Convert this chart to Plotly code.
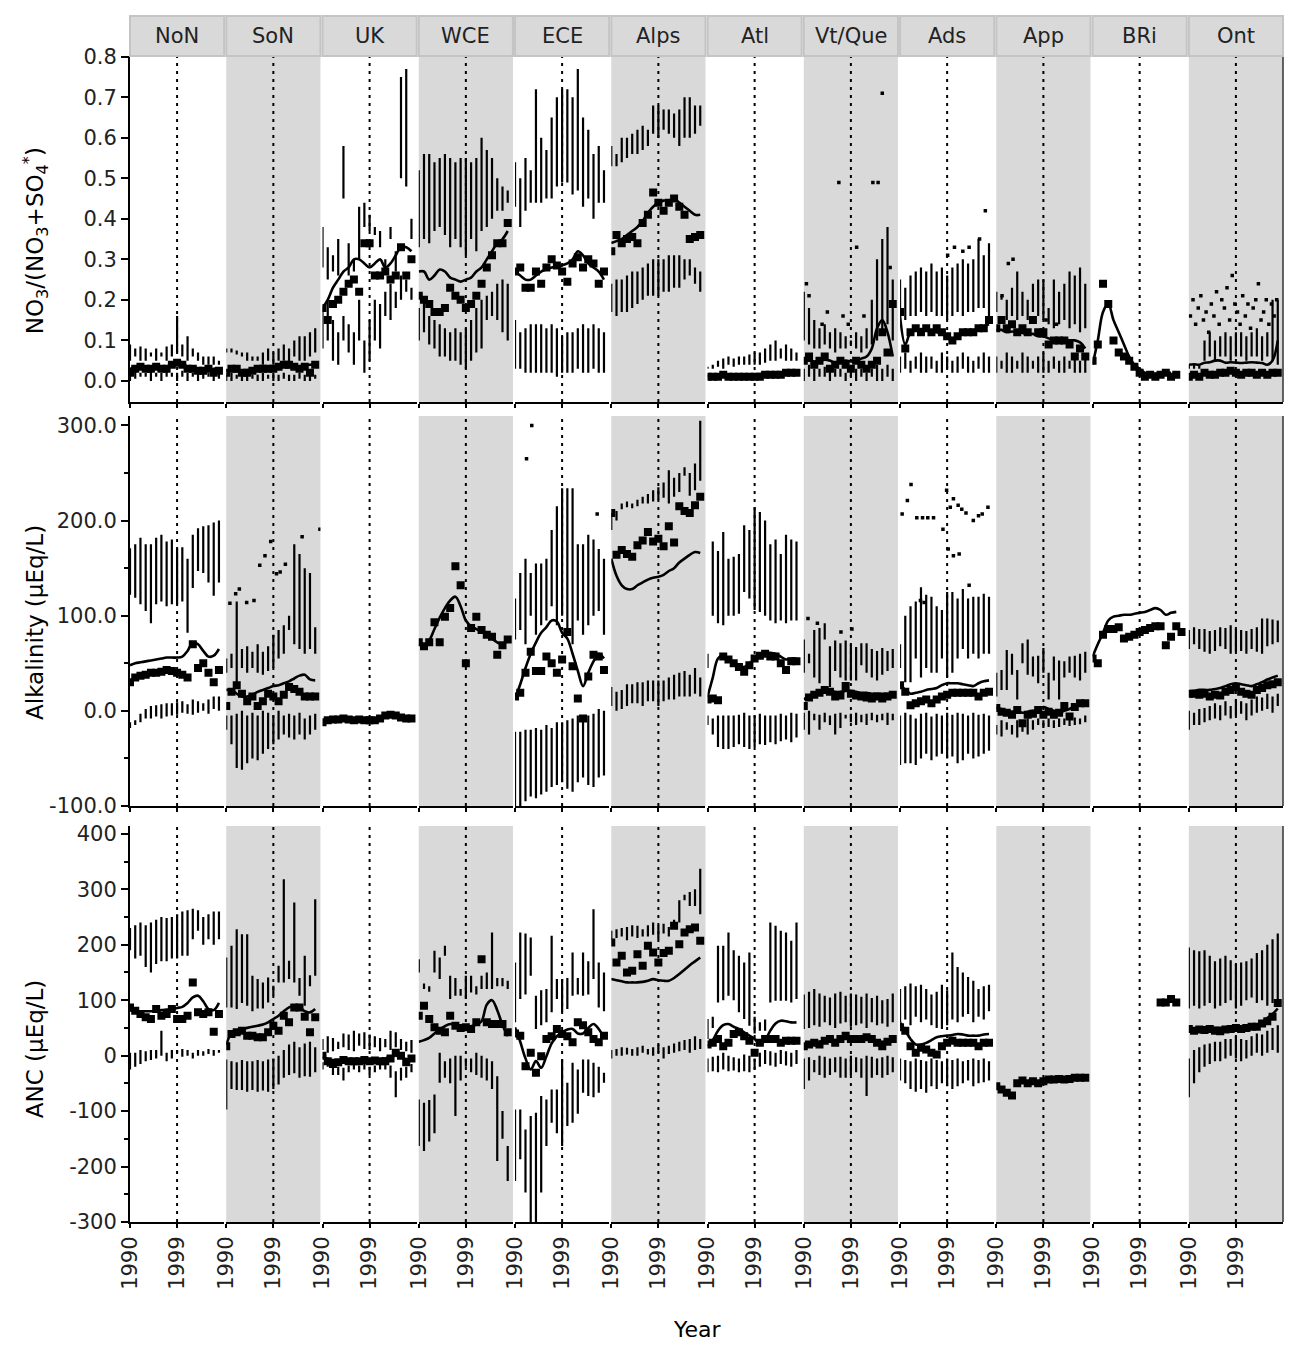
import plotly.graph_objects as go
from plotly.subplots import make_subplots

REGIONS = ["NoN", "SoN", "UK", "WCE", "ECE", "Alps", "Atl", "Vt/Que", "Ads", "App", "BRi", "Ont"]
YEARS = list(range(1990, 2008))
TICK_YEARS = [1990, 1999]
RATIO_TICKS = [0.0, 0.1, 0.2, 0.3, 0.4, 0.5, 0.6, 0.7, 0.8]
ALK_TICKS = [-100, 0, 100, 200, 300]
ANC_TICKS = [-300, -200, -100, 0, 100, 200, 300, 400]

# ---------- row 1: NO3/(NO3+SO4*) ----------
ratio_median = {
    "NoN": [0.02, 0.03, 0.035, 0.03, 0.03, 0.035, 0.03, 0.03, 0.04, 0.045, 0.04, 0.03, 0.03, 0.025, 0.025, 0.03, 0.02, 0.025],
    "SoN": [0.02, 0.03, 0.03, 0.02, 0.02, 0.025, 0.03, 0.03, 0.03, 0.03, 0.035, 0.04, 0.04, 0.035, 0.03, 0.035, 0.02, 0.04],
    "UK": [0.18, 0.15, 0.19, 0.2, 0.22, 0.24, 0.25, 0.22, 0.34, 0.34, 0.26, 0.26, 0.27, 0.25, 0.26, 0.33, 0.26, 0.3],
    "WCE": [0.21, 0.2, 0.19, 0.17, 0.17, 0.18, 0.23, 0.21, 0.2, 0.18, 0.19, 0.21, 0.24, 0.28, 0.31, 0.34, 0.34, 0.39],
    "ECE": [0.27, 0.28, 0.23, 0.23, 0.27, 0.24, 0.28, 0.3, 0.285, 0.27, 0.245, 0.29, 0.305, 0.28, 0.3, 0.29, 0.24, 0.27],
    "Alps": [0.32, 0.36, 0.34, 0.35, 0.355, 0.34, 0.39, 0.41, 0.465, 0.44, 0.42, 0.44, 0.45, 0.43, 0.41, 0.35, 0.355, 0.36],
    "Atl": [0.01, 0.01, 0.01, 0.015, 0.01, 0.01, 0.01, 0.01, 0.01, 0.01, 0.01, 0.015, 0.015, 0.015, 0.015, 0.02, 0.02, 0.02],
    "Vt/Que": [0.05, 0.06, 0.04, 0.05, 0.06, 0.03, 0.04, 0.05, 0.04, 0.03, 0.05, 0.04, 0.03, 0.04, 0.05, 0.12, 0.07, 0.19],
    "Ads": [0.17, 0.08, 0.12, 0.13, 0.12, 0.13, 0.12, 0.13, 0.12, 0.11, 0.1, 0.11, 0.12, 0.12, 0.12, 0.13, 0.13, 0.15],
    "App": [0.13, 0.15, 0.13, 0.14, 0.12, 0.13, 0.12, 0.15, 0.12, 0.12, 0.09, 0.1, 0.1, 0.1, 0.09, 0.06, 0.08, 0.06],
    "BRi": [0.05, 0.09, 0.24, 0.19, 0.1, 0.07, 0.06, 0.05, 0.035, 0.02, 0.01, 0.015, 0.01, 0.015, 0.02, 0.01, 0.015, None],
    "Ont": [0.01, 0.015, 0.01, 0.02, 0.015, 0.015, 0.02, 0.02, 0.025, 0.02, 0.015, 0.02, 0.02, 0.015, 0.02, 0.015, 0.02, 0.02],
}
ratio_trend = {
    "NoN": [0.03, 0.033, 0.035, 0.035, 0.033, 0.032, 0.033, 0.035, 0.042, 0.05, 0.045, 0.035, 0.03, 0.028, 0.027, 0.028, 0.03, 0.03],
    "SoN": [0.025, 0.026, 0.024, 0.025, 0.027, 0.028, 0.027, 0.03, 0.031, 0.03, 0.033, 0.035, 0.034, 0.036, 0.035, 0.038, 0.04, 0.04],
    "UK": [0.18, 0.2, 0.23, 0.25, 0.27, 0.28, 0.3, 0.3, 0.29, 0.28, 0.29, 0.3, 0.28, 0.29, 0.31, 0.33, 0.33, 0.32],
    "WCE": [0.27, 0.27, 0.25, 0.26, 0.275, 0.27, 0.255, 0.25, 0.245, 0.25, 0.255, 0.27, 0.28, 0.3, 0.32, 0.34, 0.35, 0.37],
    "ECE": [0.27, 0.26, 0.25, 0.25, 0.26, 0.27, 0.275, 0.28, 0.28, 0.285, 0.29, 0.3, 0.32, 0.31, 0.29, 0.28, 0.27, 0.25],
    "Alps": [0.34, 0.345, 0.35, 0.36, 0.37, 0.38, 0.395, 0.415, 0.43, 0.44, 0.445, 0.445, 0.45, 0.44, 0.43, 0.42, 0.41, 0.41],
    "Atl": [0.012, 0.013, 0.012, 0.014, 0.015, 0.014, 0.015, 0.016, 0.015, 0.016, 0.017, 0.018, 0.017, 0.018, 0.019, 0.02, 0.02, 0.021],
    "Vt/Que": [0.05, 0.05, 0.048, 0.05, 0.052, 0.05, 0.045, 0.046, 0.05, 0.048, 0.05, 0.055, 0.06, 0.08, 0.13, 0.15, 0.12, 0.06],
    "Ads": [0.16, 0.09, 0.12, 0.125, 0.128, 0.125, 0.12, 0.12, 0.115, 0.11, 0.105, 0.11, 0.115, 0.12, 0.125, 0.13, 0.135, 0.14],
    "App": [0.125, 0.126, 0.12, 0.122, 0.12, 0.118, 0.115, 0.116, 0.11, 0.11, 0.105, 0.1, 0.1, 0.102, 0.1, 0.1, 0.095, 0.08],
    "BRi": [0.04, 0.1, 0.17, 0.19, 0.15, 0.12, 0.09, 0.06, 0.04, 0.03, 0.02, 0.02, 0.018, 0.02, 0.02, 0.02, None, None],
    "Ont": [0.04, 0.041, 0.04, 0.045, 0.046, 0.05, 0.05, 0.045, 0.046, 0.045, 0.044, 0.045, 0.046, 0.045, 0.044, 0.04, 0.05, 0.1],
}
ratio_upper_lo = {
    "NoN": [0.05, 0.06, 0.05, 0.05, 0.06, 0.05, 0.06, 0.05, 0.06, 0.07, 0.06, 0.05, 0.06, 0.05, 0.04, 0.04, 0.04, 0.04],
    "SoN": [0.07, 0.07, 0.065, 0.06, 0.05, 0.05, 0.05, 0.04, 0.05, 0.04, 0.05, 0.05, 0.04, 0.06, 0.05, 0.05, 0.06, 0.07],
    "UK": [0.28, 0.25, 0.27, 0.26, 0.45, 0.26, 0.27, 0.3, 0.38, 0.37, 0.36, 0.33, 0.27, 0.35, 0.27, 0.5, 0.48, 0.35],
    "WCE": [0.33, 0.35, 0.34, 0.37, 0.38, 0.36, 0.33, 0.35, 0.33, 0.31, 0.35, 0.32, 0.37, 0.38, 0.4, 0.42, 0.42, 0.44],
    "ECE": [0.43, 0.38, 0.42, 0.44, 0.44, 0.44, 0.45, 0.45, 0.48, 0.49, 0.49, 0.46, 0.47, 0.43, 0.45, 0.4, 0.44, 0.44],
    "Alps": [0.53, 0.53, 0.54, 0.55, 0.56, 0.56, 0.57, 0.58, 0.61, 0.6, 0.62, 0.61, 0.6, 0.58, 0.6, 0.6, 0.61, 0.63],
    "Atl": [0.03, 0.03, 0.035, 0.03, 0.04, 0.035, 0.04, 0.04, 0.04, 0.04, 0.04, 0.045, 0.05, 0.05, 0.055, 0.05, 0.05, 0.05],
    "Vt/Que": [0.1, 0.09, 0.08, 0.08, 0.09, 0.08, 0.07, 0.08, 0.08, 0.09, 0.08, 0.07, 0.08, 0.09, 0.1, 0.12, 0.14, 0.1],
    "Ads": [0.16, 0.15, 0.16, 0.16, 0.17, 0.16, 0.17, 0.16, 0.16, 0.15, 0.16, 0.17, 0.16, 0.17, 0.17, 0.18, 0.18, 0.16],
    "App": [0.17, 0.2, 0.15, 0.16, 0.15, 0.16, 0.15, 0.17, 0.16, 0.15, 0.14, 0.13, 0.14, 0.15, 0.13, 0.14, 0.12, 0.13],
    "BRi": None,
    "Ont": [0.03, 0.03, 0.03, 0.05, 0.06, 0.05, 0.06, 0.06, 0.05, 0.06, 0.06, 0.05, 0.06, 0.06, 0.05, 0.06, 0.05, 0.04],
}
ratio_upper_hi = {
    "NoN": [0.09, 0.08, 0.085, 0.08, 0.07, 0.08, 0.07, 0.085, 0.09, 0.16, 0.09, 0.11, 0.08, 0.07, 0.06, 0.06, 0.06, 0.05],
    "SoN": [0.08, 0.08, 0.075, 0.07, 0.07, 0.06, 0.06, 0.07, 0.08, 0.07, 0.08, 0.09, 0.08, 0.1, 0.11, 0.11, 0.12, 0.13],
    "UK": [0.38, 0.33, 0.31, 0.35, 0.58, 0.34, 0.3, 0.43, 0.44, 0.41, 0.38, 0.37, 0.3, 0.38, 0.32, 0.75, 0.77, 0.4],
    "WCE": [0.52, 0.56, 0.56, 0.54, 0.55, 0.56, 0.55, 0.54, 0.55, 0.55, 0.54, 0.55, 0.6, 0.57, 0.55, 0.5, 0.48, 0.47],
    "ECE": [0.54, 0.5, 0.55, 0.52, 0.72, 0.6, 0.57, 0.65, 0.7, 0.72, 0.72, 0.7, 0.77, 0.65, 0.62, 0.56, 0.58, 0.52],
    "Alps": [0.58, 0.56, 0.6, 0.6, 0.61, 0.62, 0.63, 0.62, 0.68, 0.68, 0.67, 0.67, 0.66, 0.67, 0.7, 0.7, 0.68, 0.68],
    "Atl": [0.035, 0.04, 0.05, 0.055, 0.06, 0.055, 0.06, 0.06, 0.065, 0.07, 0.07, 0.08, 0.09, 0.1, 0.08, 0.09, 0.08, 0.07],
    "Vt/Que": [0.22, 0.18, 0.15, 0.13, 0.14, 0.12, 0.13, 0.12, 0.11, 0.1, 0.12, 0.11, 0.13, 0.2, 0.3, 0.35, 0.38, 0.25],
    "Ads": [0.25, 0.23, 0.26, 0.27, 0.28, 0.27, 0.29, 0.27, 0.28, 0.26, 0.28, 0.29, 0.3, 0.29, 0.3, 0.35, 0.31, 0.34],
    "App": [0.22, 0.21, 0.2, 0.23, 0.27, 0.22, 0.2, 0.24, 0.25, 0.25, 0.18, 0.25, 0.22, 0.24, 0.27, 0.26, 0.28, 0.24],
    "BRi": None,
    "Ont": [0.04, 0.04, 0.04, 0.1, 0.12, 0.1, 0.11, 0.12, 0.11, 0.12, 0.12, 0.11, 0.12, 0.13, 0.11, 0.12, 0.2, 0.2],
}
ratio_lower_lo = {
    "NoN": [0.0, 0.005, 0.01, 0.01, 0.0, 0.01, 0.0, 0.01, 0.01, 0.0, 0.01, 0.0, 0.01, 0.0, 0.005, 0.01, 0.0, 0.005],
    "SoN": [0.0, 0.0, 0.005, 0.0, 0.0, 0.005, 0.0, 0.0, 0.005, 0.0, 0.0, 0.005, 0.0, 0.0, 0.005, 0.0, 0.0, 0.005],
    "UK": [0.08, 0.1, 0.05, 0.04, 0.1, 0.07, 0.04, 0.1, 0.02, 0.05, 0.1, 0.08, 0.16, 0.15, 0.18, 0.2, 0.22, 0.2],
    "WCE": [0.1, 0.12, 0.09, 0.08, 0.06, 0.06, 0.05, 0.05, 0.04, 0.03, 0.05, 0.07, 0.08, 0.15, 0.16, 0.15, 0.12, 0.1],
    "ECE": [0.03, 0.03, 0.02, 0.02, 0.02, 0.02, 0.02, 0.02, 0.01, 0.02, 0.02, 0.02, 0.03, 0.02, 0.02, 0.03, 0.02, 0.02],
    "Alps": [0.17, 0.16, 0.17, 0.17, 0.18, 0.19, 0.2, 0.21, 0.21, 0.21, 0.22, 0.22, 0.23, 0.23, 0.25, 0.26, 0.24, 0.22],
    "Atl": None,
    "Vt/Que": [0.0, 0.01, 0.0, 0.01, 0.01, 0.0, 0.01, 0.01, 0.0, 0.01, 0.0, 0.01, 0.0, 0.01, 0.0, 0.0, 0.01, 0.0],
    "Ads": [0.02, 0.03, 0.02, 0.03, 0.02, 0.02, 0.03, 0.02, 0.02, 0.03, 0.02, 0.02, 0.03, 0.02, 0.02, 0.03, 0.02, 0.02],
    "App": [0.02, 0.03, 0.02, 0.02, 0.03, 0.02, 0.02, 0.03, 0.02, 0.02, 0.02, 0.03, 0.02, 0.02, 0.03, 0.02, 0.02, 0.02],
    "BRi": None,
    "Ont": None,
}
ratio_lower_hi = {
    "NoN": [0.02, 0.025, 0.02, 0.02, 0.025, 0.02, 0.02, 0.025, 0.02, 0.02, 0.025, 0.02, 0.02, 0.02, 0.02, 0.02, 0.015, 0.02],
    "SoN": [0.015, 0.02, 0.015, 0.015, 0.02, 0.015, 0.015, 0.02, 0.015, 0.02, 0.015, 0.02, 0.015, 0.015, 0.02, 0.015, 0.02, 0.015],
    "UK": [0.18, 0.2, 0.15, 0.12, 0.16, 0.14, 0.12, 0.2, 0.1, 0.15, 0.2, 0.19, 0.22, 0.24, 0.22, 0.26, 0.25, 0.23],
    "WCE": [0.18, 0.2, 0.16, 0.15, 0.14, 0.13, 0.12, 0.13, 0.12, 0.13, 0.15, 0.18, 0.2, 0.21, 0.22, 0.24, 0.25, 0.24],
    "ECE": [0.15, 0.12, 0.13, 0.14, 0.14, 0.14, 0.13, 0.14, 0.13, 0.11, 0.12, 0.12, 0.13, 0.14, 0.13, 0.14, 0.13, 0.12],
    "Alps": [0.24, 0.25, 0.25, 0.26, 0.27, 0.27, 0.28, 0.29, 0.3, 0.3, 0.3, 0.31, 0.31, 0.31, 0.3, 0.3, 0.28, 0.27],
    "Atl": None,
    "Vt/Que": [0.03, 0.04, 0.03, 0.03, 0.035, 0.03, 0.03, 0.03, 0.02, 0.03, 0.03, 0.03, 0.02, 0.03, 0.04, 0.03, 0.04, 0.03],
    "Ads": [0.06, 0.07, 0.05, 0.06, 0.07, 0.06, 0.06, 0.05, 0.07, 0.06, 0.05, 0.06, 0.07, 0.06, 0.05, 0.06, 0.07, 0.06],
    "App": [0.06, 0.05, 0.07, 0.06, 0.05, 0.07, 0.06, 0.05, 0.06, 0.07, 0.05, 0.06, 0.05, 0.06, 0.05, 0.06, 0.05, 0.06],
    "BRi": None,
    "Ont": None,
}
ratio_extra_x = {
    "Vt/Que": [1990.5, 1991, 1993.5, 1994.5, 1996.7, 1997.5, 1998.5, 2000.1, 2001.5, 2003.2, 2004.2, 2005.0, 2006.5],
    "Ads": [1999.1, 2000.4, 2002.0, 2003.2, 2005.2, 2006.3],
    "App": [1991.1, 1992.3, 1993.2, 1999.5, 2001.5],
    "Ont": [1990.3, 1990.8, 1991.3, 1991.8, 1992.3, 1992.8, 1993.3, 1993.8, 1994.3, 1994.8, 1995.3, 1995.8,
            1996.3, 1996.8, 1997.3, 1997.8, 1998.3, 1998.8, 1999.3, 1999.8, 2000.3, 2000.8, 2001.3, 2001.8,
            2002.3, 2002.8, 2003.3, 2003.8, 2004.3, 2004.8, 2005.3, 2005.8, 2006.3, 2006.8],
}
ratio_extra_y = {
    "Vt/Que": [0.24, 0.21, 0.14, 0.17, 0.49, 0.16, 0.14, 0.33, 0.16, 0.49, 0.49, 0.71, 0.28],
    "Ads": [0.31, 0.33, 0.32, 0.33, 0.35, 0.42],
    "App": [0.21, 0.29, 0.3, 0.15, 0.14],
    "Ont": [0.16, 0.2, 0.14, 0.18, 0.21, 0.15, 0.17, 0.12, 0.19, 0.16, 0.22, 0.14, 0.2, 0.18, 0.23, 0.15, 0.26,
            0.19, 0.17, 0.14, 0.21, 0.16, 0.19, 0.13, 0.18, 0.2, 0.24, 0.15, 0.17, 0.2, 0.14, 0.19, 0.16, 0.2],
}

# ---------- row 2: Alkalinity ----------
alk_median = {
    "NoN": [30, 35, 37, 38, 40, 40, 41, 43, 42, 40, 38, 35, 70, 45, 50, 40, 30, 43],
    "SoN": [5, 20, 27, 18, 10, 15, 5, 10, 18, 15, 10, 17, 25, 23, 20, 15, 15, 15],
    "UK": [-12, -10, -9, -9, -8, -9, -10, -9, -10, -10, -10, -8, -5, -4, -5, -7, -8, -8],
    "WCE": [72, 68, 72, 93, 72, 99, 108, 152, 132, 50, 87, 99, 85, 80, 78, 59, 69, 75],
    "ECE": [15, 19, 40, 62, 42, 42, 57, 50, 40, 54, 83, 47, 13, -8, 36, 59, 57, 43],
    "Alps": [208, 164, 169, 165, 162, 174, 179, 188, 178, 181, 173, 194, 177, 215, 210, 208, 216, 225],
    "Atl": [12, 13, 11, 57, 54, 50, 46, 41, 48, 55, 58, 60, 57, 57, 50, 43, 52, 52],
    "Vt/Que": [5, 14, 17, 19, 22, 20, 15, 16, 26, 18, 16, 15, 14, 13, 15, 13, 15, 17],
    "Ads": [27, 20, 6, 8, 10, 12, 8, 12, 15, 17, 19, 19, 19, 19, 19, 15, 19, 20],
    "App": [3, -1, -2, -4, 1, -13, -4, -3, 1, -4, -1, -4, -2, 5, -6, 4, 8, 8],
    "BRi": [55, 50, 80, 86, 86, 88, 76, 78, 80, 83, 85, 87, 89, 89, 69, 78, 89, 83],
    "Ont": [18, 18, 17, 18, 15, 17, 16, 20, 22, 25, 20, 18, 17, 22, 24, 27, 28, 30],
}
alk_trend = {
    "NoN": [48, 50, 51, 52, 53, 54, 55, 56, 56, 56, 57, 63, 72, 70, 63, 57, 58, 65],
    "SoN": [22, 22, 18, 15, 15, 17, 20, 22, 24, 26, 27, 29, 31, 34, 37, 38, 33, 32],
    "UK": None,
    "WCE": [70, 68, 74, 86, 98, 108, 116, 120, 110, 95, 89, 86, 83, 80, 76, 72, 70, 74],
    "ECE": [13, 28, 45, 60, 72, 82, 88, 95, 94, 82, 76, 60, 42, 26, 40, 52, 60, 55],
    "Alps": [160, 142, 132, 128, 128, 132, 135, 138, 140, 141, 143, 147, 150, 156, 160, 164, 167, 166],
    "Atl": [15, 35, 55, 58, 55, 51, 48, 46, 50, 54, 58, 61, 61, 60, 57, 54, 55, 55],
    "Vt/Que": [12, 16, 18, 20, 21, 21, 20, 20, 21, 21, 20, 19, 19, 18, 18, 18, 18, 18],
    "Ads": [28, 22, 18, 19, 20, 22, 23, 24, 27, 29, 29, 29, 28, 27, 26, 29, 31, 32],
    "App": [3, 2, 0, -1, 0, -2, -1, 0, 1, 4, 2, 0, -2, 0, 2, 5, 6, 7],
    "BRi": [57, 70, 82, 95, 99, 100, 101, 101, 102, 103, 104, 106, 108, 106, 101, 103, 104, None],
    "Ont": [20, 21, 22, 22, 22, 23, 24, 26, 28, 29, 28, 27, 26, 28, 30, 33, 35, 37],
}
alk_upper_lo = {
    "NoN": [122, 119, 112, 105, 92, 112, 115, 110, 112, 112, 115, 82, 129, 147, 145, 135, 121, 135],
    "SoN": [40, 45, 30, 45, 40, 45, 40, 38, 42, 45, 55, 60, 85, 70, 65, 60, 65, 60],
    "UK": None,
    "WCE": None,
    "ECE": [75, 85, 70, 100, 80, 90, 95, 110, 90, 100, 85, 70, 95, 80, 90, 100, 105, 80],
    "Alps": [190, 200, 212, 214, 213, 215, 218, 218, 220, 222, 224, 218, 225, 230, 247, 226, 232, 242],
    "Atl": [45, 100, 92, 90, 100, 100, 102, 125, 118, 106, 104, 100, 95, 92, 95, 92, 95, 95],
    "Vt/Que": [40, 50, 35, 29, 75, 25, 42, 35, 32, 32, 32, 48, 40, 35, 32, 38, 42, 45],
    "Ads": [45, 30, 30, 55, 35, 45, 40, 40, 55, 35, 40, 55, 65, 55, 60, 55, 60, 60],
    "App": [15, 22, 22, 38, 12, 50, 38, 36, 29, 40, 12, 32, 12, 35, 40, 35, 32, 40],
    "BRi": None,
    "Ont": [65, 70, 65, 62, 60, 63, 68, 65, 60, 62, 63, 60, 65, 62, 60, 68, 70, 72],
}
alk_upper_hi = {
    "NoN": [171, 175, 182, 175, 175, 182, 185, 178, 180, 171, 172, 160, 185, 192, 194, 195, 198, 200],
    "SoN": [55, 60, 115, 65, 68, 62, 70, 62, 68, 80, 85, 90, 100, 175, 165, 150, 145, 88],
    "UK": None,
    "WCE": None,
    "ECE": [118, 145, 160, 145, 155, 155, 160, 190, 215, 234, 234, 234, 175, 175, 185, 180, 170, 160],
    "Alps": [208, 210, 218, 220, 218, 222, 225, 228, 232, 235, 240, 253, 245, 250, 256, 250, 260, 305],
    "Atl": [60, 178, 168, 188, 160, 162, 165, 195, 190, 214, 209, 200, 175, 180, 165, 185, 180, 178],
    "Vt/Que": [75, 60, 85, 87, 92, 68, 74, 71, 74, 70, 67, 71, 71, 65, 63, 66, 63, 65],
    "Ads": [70, 100, 110, 115, 130, 122, 120, 110, 106, 125, 125, 118, 128, 118, 120, 120, 123, 120],
    "App": [40, 43, 64, 60, 43, 71, 75, 57, 58, 66, 40, 57, 53, 52, 57, 58, 60, 62],
    "BRi": None,
    "Ont": [85, 88, 86, 86, 84, 85, 88, 87, 90, 86, 85, 84, 86, 88, 97, 97, 96, 95],
}
alk_lower_lo = {
    "NoN": [-18, -15, -12, -8, -8, -6, -8, -6, -5, -4, -2, -3, -4, -2, 0, -3, 2, 0],
    "SoN": [-20, -35, -60, -62, -55, -50, -52, -45, -40, -35, -30, -25, -28, -30, -25, -30, -25, -20],
    "UK": None,
    "WCE": None,
    "ECE": [-100, -100, -95, -90, -92, -88, -85, -80, -78, -75, -82, -85, -75, -70, -78, -80, -70, -68],
    "Alps": [5, 0, 2, 5, 8, 8, 5, 10, 10, 5, 10, 12, 12, 15, 15, 15, 18, 15],
    "Atl": [-15, -25, -38, -40, -40, -38, -35, -38, -40, -38, -35, -36, -33, -35, -32, -30, -33, -28],
    "Vt/Que": [-20, -25, -10, -20, -12, -15, -25, -18, -8, -12, -15, -12, -15, -10, -12, -10, -15, -10],
    "Ads": [-57, -55, -55, -57, -50, -45, -52, -48, -45, -50, -48, -55, -52, -45, -50, -48, -45, -42],
    "App": [-25, -27, -20, -25, -28, -22, -25, -20, -15, -18, -17, -18, -17, -15, -16, -15, -14, -12],
    "BRi": None,
    "Ont": [-20, -15, -15, -12, -10, -8, -10, -5, -8, -5, -3, -10, -5, -2, 0, 2, -2, 5],
}
alk_lower_hi = {
    "NoN": [-12, -10, -3, 2, 5, 6, 7, 8, 8, 9, 10, 7, 12, 10, 8, 12, 15, 15],
    "SoN": [-5, -5, -3, 0, -5, -2, -5, 0, -2, -5, 0, -5, -3, -5, -2, -8, -5, -3],
    "UK": None,
    "WCE": None,
    "ECE": [-22, -22, -20, -20, -18, -20, -15, -18, -12, -12, -10, -8, -5, -8, -5, -3, 2, 0],
    "Alps": [25, 20, 22, 28, 28, 30, 30, 32, 32, 32, 32, 35, 38, 40, 42, 38, 45, 35],
    "Atl": [-5, -8, -5, -5, -5, -5, -4, -2, -5, -5, -3, -5, -5, -5, -3, -5, -2, -3],
    "Vt/Que": [-2, 0, -3, -4, -2, -5, -3, -2, -4, -3, -2, -4, -3, -2, -4, -3, -2, -3],
    "Ads": [-5, -2, -4, -8, -3, -2, -6, -3, -5, -2, -4, -2, -3, -5, -2, -4, -3, -5],
    "App": [-15, -10, -12, -15, -10, -13, -8, -10, -8, -10, -8, -10, -8, -8, -8, -7, -8, -5],
    "BRi": None,
    "Ont": [0, -2, 2, 3, 5, 8, 6, 10, 5, 12, 10, 8, 12, 15, 14, 18, 15, 18],
}
alk_extra_x = {
    "SoN": [1990.7, 1991.8, 1992.5, 1993.9, 1995.3, 1996.4, 1997.4, 1998.5, 1999.6, 2000.3, 2001.3, 2004.5, 2007.9],
    "ECE": [1992.2, 1993.2, 2005.7],
    "Vt/Que": [1990.8, 1992.6, 1997.1, 1999.2],
    "Ads": [1990.4, 1991.4, 1992.1, 1993.2, 1994.3, 1995.3, 1996.4, 1998.2, 1998.9, 1999.6, 2000.2, 2001.1,
            2001.8, 2002.6, 2004.0, 2005.0, 2005.7, 2006.8, 1999.2, 2000.2, 2001.3, 1993.9, 1994.6, 2003.2],
}
alk_extra_y = {
    "SoN": [113, 123, 128, 114, 116, 153, 163, 178, 144, 146, 154, 183, 191],
    "ECE": [265, 300, 207],
    "Vt/Que": [97, 92, 83, 86],
    "Ads": [207, 221, 238, 203, 203, 203, 203, 191, 232, 214, 223, 216,
            212, 208, 200, 205, 207, 214, 170, 163, 165, 116, 114, 132],
}

# ---------- row 3: ANC ----------
anc_median = {
    "NoN": [87, 81, 75, 69, 66, 84, 72, 75, 84, 66, 66, 72, 132, 78, 75, 78, 43, 75],
    "SoN": [17, 39, 42, 45, 36, 36, 33, 33, 42, 54, 45, 72, 60, 87, 87, 70, 42, 69],
    "UK": [0, -10, -15, -12, -8, -10, -10, -10, -8, -10, -9, -10, -10, -5, 5, 0, -12, -5],
    "WCE": [72, 90, 66, 51, 45, 42, 72, 54, 50, 51, 48, 60, 174, 60, 57, 57, 57, 42],
    "ECE": [40, 36, -19, 5, -31, -1, 30, 35, 48, 39, 35, 24, 60, 55, 42, 30, 24, 36],
    "Alps": [204, 168, 180, 150, 153, 183, 162, 198, 186, 168, 185, 189, 234, 201, 222, 228, 231, 207],
    "Atl": [20, 23, 30, 17, 23, 39, 42, 35, 27, 5, 23, 30, 30, 30, 23, 27, 27, 27],
    "Vt/Que": [17, 20, 23, 20, 27, 30, 23, 30, 36, 30, 30, 30, 33, 30, 23, 17, 25, 30],
    "Ads": [51, 45, 17, 5, 14, 11, 5, 2, 17, 23, 27, 23, 23, 23, 23, 17, 23, 23],
    "App": [-55, -61, -67, -72, -50, -45, -50, -46, -50, -46, -43, -43, -42, -43, -42, -40, -40, -40],
    "BRi": [None, None, None, None, None, None, None, None, None, None, None, None, None, 96, 96, 102, 96, None],
    "Ont": [48, 45, 47, 46, 48, 45, 44, 47, 48, 50, 48, 50, 52, 52, 58, 62, 70, 95],
}
anc_trend = {
    "NoN": [82, 80, 80, 80, 80, 80, 82, 83, 84, 86, 88, 95, 105, 108, 98, 84, 82, 95],
    "SoN": [20, 40, 45, 48, 50, 52, 54, 56, 60, 66, 72, 80, 87, 90, 88, 80, 78, 84],
    "UK": [-2, -6, -8, -9, -9, -9, -9, -9, -9, -9, -8, -7, -5, -2, 0, -3, -6, -5],
    "WCE": [25, 28, 32, 40, 47, 53, 57, 55, 52, 51, 53, 56, 62, 92, 100, 82, 55, 35],
    "ECE": [51, 25, -5, -25, -10, -22, -1, 22, 35, 42, 47, 48, 40, 40, 50, 57, 48, 32],
    "Alps": [138, 136, 134, 132, 132, 132, 133, 135, 138, 136, 135, 135, 140, 147, 155, 163, 170, 177],
    "Atl": [17, 28, 45, 55, 57, 52, 48, 42, 36, 30, 20, 28, 45, 58, 63, 62, 60, 60],
    "Vt/Que": [20, 22, 23, 25, 27, 28, 28, 29, 30, 30, 31, 30, 30, 29, 27, 25, 26, 28],
    "Ads": [60, 45, 30, 20, 20, 23, 28, 33, 35, 36, 37, 39, 38, 36, 36, 36, 38, 39],
    "App": None,
    "BRi": None,
    "Ont": [45, 46, 47, 48, 49, 50, 50, 51, 52, 53, 53, 54, 55, 56, 60, 68, 75, 85],
}
anc_upper_lo = {
    "NoN": [190, 175, 180, 160, 150, 165, 170, 170, 175, 175, 180, 180, 210, 225, 200, 210, 200, 210],
    "SoN": [87, 87, 84, 95, 90, 80, 85, 85, 96, 108, 132, 132, 138, 132, 108, 90, 125, 144],
    "UK": [10, 5, 8, 12, 15, 10, 8, 18, 12, 10, 15, 8, 15, 10, 15, 10, 8, 5],
    "WCE": [150, 120, 115, 150, 138, 180, 102, 108, 108, 102, 114, 110, 120, 120, 120, 125, 125, 120],
    "ECE": [60, 102, 110, 144, 48, 55, 60, 78, 102, 78, 84, 108, 110, 108, 110, 138, 87, 80],
    "Alps": [210, 212, 215, 208, 215, 212, 215, 215, 218, 210, 220, 215, 230, 240, 280, 270, 270, 255],
    "Atl": [30, 50, 96, 100, 108, 100, 78, 66, 54, 40, 45, 45, 96, 99, 99, 99, 96, 102],
    "Vt/Que": [48, 50, 55, 52, 60, 55, 50, 58, 60, 52, 55, 58, 50, 60, 55, 58, 52, 60],
    "Ads": [60, 65, 55, 70, 60, 65, 55, 50, 48, 55, 65, 60, 70, 75, 60, 70, 65, 80],
    "App": None,
    "BRi": None,
    "Ont": [85, 90, 85, 90, 95, 85, 90, 95, 100, 85, 90, 100, 105, 95, 100, 90, 95, 100],
}
anc_upper_hi = {
    "NoN": [230, 235, 240, 235, 240, 245, 250, 248, 250, 255, 260, 262, 265, 262, 250, 255, 260, 260],
    "SoN": [177, 198, 228, 219, 219, 144, 138, 132, 141, 126, 162, 318, 171, 276, 140, 180, 145, 282],
    "UK": [30, 35, 32, 25, 40, 38, 45, 40, 42, 38, 35, 32, 30, 45, 42, 30, 25, 28],
    "WCE": [174, 130, 125, 189, 177, 198, 144, 140, 120, 144, 144, 125, 144, 150, 222, 140, 140, 135],
    "ECE": [168, 222, 220, 213, 108, 118, 120, 216, 138, 138, 140, 186, 140, 186, 170, 264, 168, 150],
    "Alps": [225, 228, 230, 232, 235, 234, 228, 235, 240, 235, 238, 232, 245, 280, 290, 295, 300, 337],
    "Atl": [66, 70, 198, 198, 222, 190, 180, 168, 186, 70, 60, 65, 240, 234, 225, 222, 207, 240],
    "Vt/Que": [110, 115, 120, 112, 108, 105, 112, 115, 108, 112, 110, 106, 112, 104, 108, 100, 102, 112],
    "Ads": [120, 125, 130, 125, 128, 120, 110, 115, 128, 118, 186, 160, 150, 142, 135, 120, 125, 128],
    "App": None,
    "BRi": None,
    "Ont": [195, 190, 188, 190, 180, 170, 175, 180, 172, 165, 168, 170, 175, 185, 190, 200, 210, 220],
}
anc_lower_lo = {
    "NoN": [-25, -20, -15, -10, -8, -5, 0, -10, -5, 5, -2, 0, -5, 0, 0, 3, 0, 5],
    "SoN": [-97, -60, -62, -62, -65, -62, -65, -63, -65, -60, -52, -40, -35, -32, -40, -37, -38, -30],
    "UK": [-25, -20, -35, -35, -45, -30, -25, -30, -25, -35, -30, -25, -25, -40, -75, -45, -40, -30],
    "WCE": [-163, -172, -155, -140, -49, -40, -50, -109, -45, -20, -30, -35, -40, -45, -60, -190, -150, -226],
    "ECE": [-226, -187, -247, -307, -307, -247, -163, -121, -140, -163, -127, -121, -105, -67, -73, -75, -67, -49],
    "Alps": [-5, 0, 0, 2, 0, 0, 5, 2, 0, 5, -5, 3, 5, 8, 10, 5, 10, 12],
    "Atl": [-30, -28, -30, -25, -28, -27, -30, -28, -30, -25, -20, -15, -18, -20, -15, -18, -20, -15],
    "Vt/Que": [-60, -45, -30, -35, -40, -35, -30, -40, -40, -35, -30, -40, -73, -40, -35, -40, -35, -30],
    "Ads": [-45, -50, -60, -65, -60, -67, -55, -60, -50, -55, -60, -55, -50, -45, -55, -50, -48, -45],
    "App": None,
    "BRi": None,
    "Ont": [-75, -50, -30, -20, -15, -10, -10, -5, 0, -5, -10, -5, 0, 5, 0, 5, 10, 5],
}
anc_lower_hi = {
    "NoN": [5, 5, 10, 8, 10, 10, 45, 5, 10, 10, 12, 10, 5, 10, 8, 12, 10, 10],
    "SoN": [-7, -10, -12, -8, -10, -10, -8, -10, -7, -5, 0, 10, 20, 25, 15, 22, 25, 15],
    "UK": [-12, -15, -18, -20, -22, -18, -15, -18, -14, -20, -18, -15, -12, -18, -28, -22, -20, -15],
    "WCE": [-79, -85, -80, -70, 5, -10, -5, 0, 0, -5, -5, 5, 0, -5, -10, -37, -100, -163],
    "ECE": [-97, -97, -133, -109, -103, -73, -79, -61, -61, -7, -49, -13, -25, -7, -7, -13, -20, -31],
    "Alps": [10, 12, 15, 14, 12, 15, 18, 12, 15, 20, 15, 18, 22, 25, 28, 30, 35, 30],
    "Atl": [-5, -2, 0, 5, 0, -3, -5, 2, 0, -5, 5, 10, 8, 5, 10, 8, 5, 10],
    "Vt/Que": [-5, -3, -8, 0, -2, -5, -3, -2, -5, 0, -3, -5, 0, -2, -5, -3, 0, -3],
    "Ads": [-5, -8, -10, -5, -8, -10, -5, -8, -10, -5, -8, -5, -10, -8, -5, -8, -5, -10],
    "App": None,
    "BRi": None,
    "Ont": [-5, 10, 15, 20, 22, 25, 25, 30, 30, 35, 30, 28, 35, 40, 38, 45, 50, 55],
}

ROWS = [
    dict(med=ratio_median, trend=ratio_trend, up=(ratio_upper_lo, ratio_upper_hi),
         low=(ratio_lower_lo, ratio_lower_hi), extra=(ratio_extra_x, ratio_extra_y),
         rng=[-0.052, 0.802], ticks=RATIO_TICKS, labels=[f"{v:.1f}" for v in RATIO_TICKS], minor=False,
         title="NO<sub>3</sub>/(NO<sub>3</sub>+SO<sub>4</sub><sup>*</sup>)", ty=0.842,
         domain=[0.7033, 1.0]),
    dict(med=alk_median, trend=alk_trend, up=(alk_upper_lo, alk_upper_hi),
         low=(alk_lower_lo, alk_lower_hi), extra=(alk_extra_x, alk_extra_y),
         rng=[-100, 310], ticks=ALK_TICKS, labels=[f"{v:.1f}" for v in ALK_TICKS], minor=True,
         title="Alkalinity (µEq/L)", ty=0.5146, domain=[0.3568, 0.6913]),
    dict(med=anc_median, trend=anc_trend, up=(anc_upper_lo, anc_upper_hi),
         low=(anc_lower_lo, anc_lower_hi), extra=({}, {}),
         rng=[-300, 414], ticks=ANC_TICKS, labels=[str(v) for v in ANC_TICKS], minor=True,
         title="ANC (µEq/L)", ty=0.149, domain=[0.0, 0.3396]),
]

FONT = "DejaVu Sans, Verdana, sans-serif"
GREY = "#D9D9D9"


def bars(lo, hi):
    xs, ys = [], []
    for yr, a, b in zip(YEARS, lo, hi):
        if a is None or b is None:
            continue
        xs += [yr, yr, None]
        ys += [a, b, None]
    return xs, ys


fig = make_subplots(rows=3, cols=12, horizontal_spacing=0.0018, vertical_spacing=0.01)
shapes, annotations = [], []

for r, spec in enumerate(ROWS, start=1):
    for c, reg in enumerate(REGIONS, start=1):
        n = (r - 1) * 12 + c
        sfx = "" if n == 1 else str(n)
        if c % 2 == 0:
            shapes.append(dict(type="rect", xref=f"x{sfx} domain", yref=f"y{sfx} domain",
                               x0=0, x1=1, y0=0, y1=1, fillcolor=GREY, line_width=0, layer="below"))
        shapes.append(dict(type="line", xref=f"x{sfx}", yref=f"y{sfx} domain",
                           x0=1999, x1=1999, y0=0, y1=1, layer="below",
                           line=dict(color="black", width=2, dash="3px,5px")))
        if c == 12:
            shapes.append(dict(type="line", xref=f"x{sfx} domain", yref=f"y{sfx} domain",
                               x0=1, x1=1, y0=0, y1=1, line=dict(color="#333", width=1.5)))

        for lo_d, hi_d in (spec["up"], spec["low"]):
            lo, hi = lo_d.get(reg), hi_d.get(reg)
            if lo is None or hi is None:
                continue
            bx, by = bars(lo, hi)
            fig.add_trace(go.Scatter(x=bx, y=by, mode="lines", line=dict(color="black", width=2.2),
                                     showlegend=False, hoverinfo="skip"), row=r, col=c)

        ex_x, ex_y = spec["extra"]
        if reg in ex_x:
            fig.add_trace(go.Scatter(x=ex_x[reg], y=ex_y[reg], mode="markers",
                                     marker=dict(symbol="square", size=3.5, color="black"),
                                     showlegend=False), row=r, col=c)

        tr = spec["trend"].get(reg)
        if tr is not None:
            fig.add_trace(go.Scatter(x=YEARS, y=tr, mode="lines", line=dict(color="black", width=2.6),
                                     line_shape="spline", showlegend=False), row=r, col=c)

        med = spec["med"].get(reg)
        if med is not None:
            fig.add_trace(go.Scatter(x=YEARS, y=med, mode="markers",
                                     marker=dict(symbol="square", size=8, color="black"),
                                     showlegend=False), row=r, col=c)

        if r == 1:
            shapes.append(dict(type="rect", xref=f"x{sfx} domain", yref="paper",
                               x0=0, x1=1, y0=1.0, y1=1.0343, fillcolor=GREY,
                               line=dict(color="#C4C4C4", width=2)))
            annotations.append(dict(text=reg, xref=f"x{sfx} domain", yref="paper", x=0.5, y=1.0172,
                                    xanchor="center", yanchor="middle", showarrow=False,
                                    font=dict(size=21, color="#222", family=FONT)))

    fig.update_yaxes(domain=spec["domain"], range=spec["rng"], row=r)
    fig.update_yaxes(showline=True, linecolor="black", linewidth=2, showticklabels=True,
                     ticks="outside", ticklen=7, tickwidth=2, tickcolor="black",
                     tickmode="array", tickvals=spec["ticks"], ticktext=spec["labels"],
                     tickfont=dict(size=21, color="#222", family=FONT), row=r, col=1)
    if spec["minor"]:
        fig.update_yaxes(minor=dict(tickmode="linear", tick0=0, dtick=50, ticks="outside",
                                    ticklen=4, tickwidth=1.5, tickcolor="black"), row=r, col=1)
    annotations.append(dict(text=spec["title"], xref="paper", yref="paper", x=-0.0824, y=spec["ty"],
                            textangle=-90, showarrow=False, xanchor="center", yanchor="middle",
                            font=dict(size=23, color="black", family=FONT)))

annotations.append(dict(text="Year", xref="paper", yref="paper", x=0.4918, y=-0.0926,
                        xanchor="center", yanchor="middle", showarrow=False,
                        font=dict(size=22, color="black", family=FONT)))

fig.update_xaxes(range=[1990, 2008], tickmode="array", tickvals=TICK_YEARS,
                 ticktext=[str(y) for y in TICK_YEARS], tickangle=-90, showgrid=False,
                 zeroline=False, showline=True, linecolor="black", linewidth=2,
                 ticks="outside", ticklen=4, tickwidth=1.5, tickcolor="black",
                 tickfont=dict(size=21, color="#222", family=FONT),
                 showticklabels=False, fixedrange=True)
fig.update_xaxes(showticklabels=True, row=3)
fig.update_yaxes(showgrid=False, zeroline=False, fixedrange=True)
for c in range(2, 13):
    for r in range(1, 4):
        fig.update_yaxes(showticklabels=False, showline=False, ticks="", row=r, col=c)

# the page adds an 8px body margin, so the figure is 8px smaller and shifted accordingly
fig.update_layout(
    width=1287, height=1341,
    margin=dict(l=122, r=12, t=48, b=127),
    paper_bgcolor="white", plot_bgcolor="white",
    font=dict(family=FONT, size=21, color="#222"),
    shapes=shapes, annotations=annotations,
    showlegend=False,
)

fig.write_html("out.html")
